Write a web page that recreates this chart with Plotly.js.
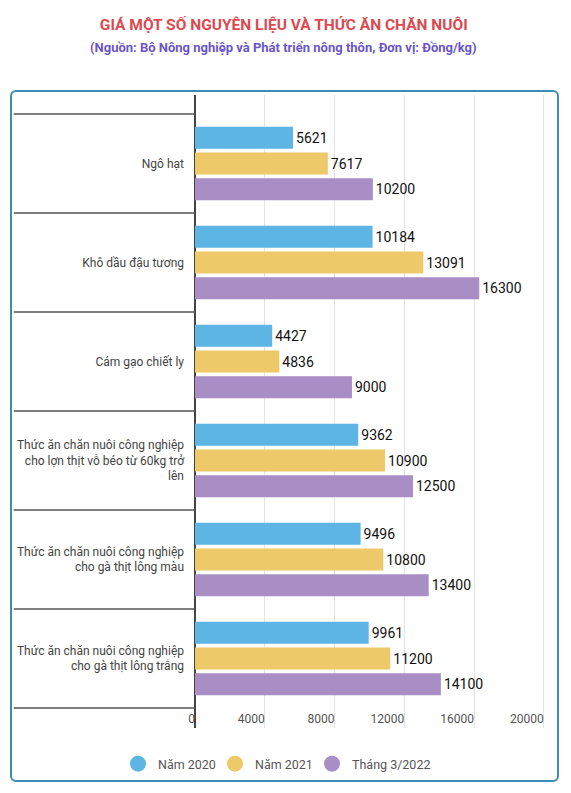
<!DOCTYPE html>
<html>
<head>
<meta charset="utf-8">
<script src="https://cdn.plot.ly/plotly-3.0.1.min.js"></script>
<style>
  body { margin: 0; background: #fff; }
  #wrap { position: relative; width: 571px; height: 793px; }
  #box { position: absolute; left: 10px; top: 90px; width: 545px; height: 688px;
         border: 2.5px solid #3b8db5; border-radius: 6px; }
  #chart { position: absolute; left: 0; top: 0; }
</style>
</head>
<body>
<div id="wrap">
  <div id="box"></div>
  <div id="chart"></div>
</div>
<script>
// du lieu
var categories = [
    'Ngô hạt',
    'Khô dầu đậu tương',
    'Cám gạo chiết ly',
    'Thức ăn chăn nuôi công nghiệp<br>cho lợn thịt vỗ béo từ 60kg trở<br>lên',
    'Thức ăn chăn nuôi công nghiệp<br>cho gà thịt lông màu',
    'Thức ăn chăn nuôi công nghiệp<br>cho gà thịt lông trắng'
]
var nam2020 = [5621, 10184, 4427, 9362, 9496, 9961]
var nam2021 = [7617, 13091, 4836, 10900, 10800, 11200]
var thang3_2022 = [10200, 16300, 9000, 12500, 13400, 14100]
var seriesNames = ['Năm 2020', 'Năm 2021', 'Tháng 3/2022']
var xTicks = [0, 4000, 8000, 12000, 16000, 20000]

var colors = ['#5db5e4', '#eec96a', '#a98ec6']

function barTrace(vals, i) {
    return {
        type: 'bar',
        orientation: 'h',
        y: categories,
        x: vals,
        name: seriesNames[i],
        showlegend: false,
        text: vals.map(String),
        textposition: 'outside',
        cliponaxis: false,
        textfont: { family: 'Roboto', size: 14, color: '#111' },
        marker: { color: colors[i] },
        hoverinfo: 'x+name'
    }
}

// legend voi cham tron
function legendTrace(i, w) {
    return {
        type: 'scatter',
        mode: 'markers',
        x: [null],
        y: [null],
        name: seriesNames[i],
        legendwidth: w,
        marker: { color: colors[i], size: 17 }
    }
}

var data = [
    barTrace(nam2020, 0),
    barTrace(nam2021, 1),
    barTrace(thang3_2022, 2),
    legendTrace(0, 52),
    legendTrace(1, 52),
    legendTrace(2, 100)
]

// duong ke phan cach o cot nhan
var shapes = []
for (var k = 0; k <= categories.length; k++) {
    shapes.push({
        type: 'line',
        xref: 'paper', yref: 'y',
        x0: -0.512, x1: 0,
        y0: k - 0.5, y1: k - 0.5,
        line: { color: '#555', width: 1.5 }
    })
}

var layout = {
    width: 571,
    height: 793,
    paper_bgcolor: 'rgba(0,0,0,0)',
    plot_bgcolor: 'rgba(0,0,0,0)',
    margin: { l: 195.3, r: 21.5, t: 95, b: 65, pad: 0 },
    font: { family: 'Roboto', color: '#444' },
    barmode: 'group',
    bargap: 0.222,
    bargroupgap: 0.143,
    title: {
        text: '<b>GIÁ MỘT SỐ NGUYÊN LIỆU VÀ THỨC ĂN CHĂN NUÔI</b>',
        font: { family: 'Roboto', size: 15.5, color: '#dc4a4f' },
        xref: 'container', yref: 'container',
        x: 0.497, y: 1 - 25 / 793,
        xanchor: 'center', yanchor: 'middle'
    },
    annotations: [{
        text: '<b>(Nguồn: Bộ Nông nghiệp và Phát triển nông thôn, Đơn vị: Đồng/kg)</b>',
        xref: 'paper', yref: 'paper',
        x: 0.2504, y: (728 - 48) / 633,
        xanchor: 'center', yanchor: 'middle',
        showarrow: false,
        font: { family: 'Roboto', size: 13, color: '#6a55c9' }
    }],
    xaxis: {
        range: [0, 20300],
        tickvals: xTicks,
        ticktext: xTicks.map(String),
        ticklabelposition: 'inside left',
        ticklabeloverflow: 'allow',
        ticklabelstandoff: -3,
        tickfont: { family: 'Roboto', size: 12, color: '#555' },
        showgrid: true,
        gridcolor: '#e3e3e3',
        gridwidth: 1,
        zeroline: true,
        zerolinecolor: '#444',
        zerolinewidth: 2,
        showline: false,
        fixedrange: true
    },
    yaxis: {
        type: 'category',
        range: [5.702, -0.692],
        tickfont: { family: 'Roboto', size: 12, color: '#444' },
        ticklabelstandoff: 10,
        showgrid: false,
        showline: false,
        zeroline: false,
        fixedrange: true
    },
    shapes: shapes,
    showlegend: true,
    legend: {
        orientation: 'h',
        xref: 'container', yref: 'container',
        x: 118 / 571, y: 1 - 764 / 793,
        xanchor: 'left', yanchor: 'middle',
        font: { family: 'Roboto', size: 12.5, color: '#555' },
        bgcolor: 'rgba(0,0,0,0)'
    }
}

Plotly.newPlot('chart', data, layout, { displayModeBar: false, staticPlot: true })
</script>
</body>
</html>
